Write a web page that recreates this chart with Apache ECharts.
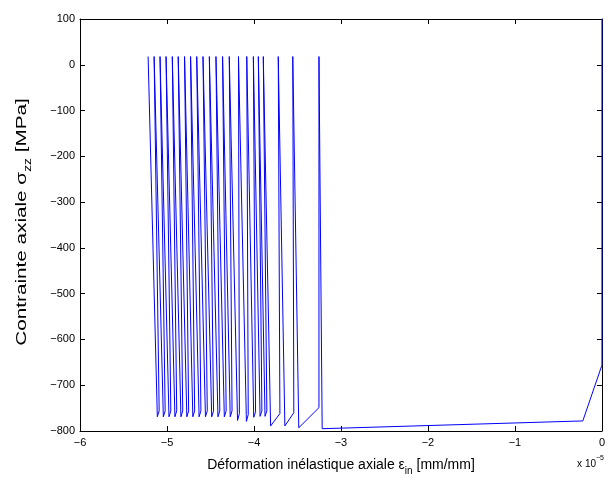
<!DOCTYPE html>
<html><head><meta charset="utf-8">
<script src="https://cdn.jsdelivr.net/npm/echarts@6/dist/echarts.min.js"></script>
<style>html,body{margin:0;padding:0;background:#fff}#c{width:608px;height:481px}</style>
</head><body><div id="c"></div>
<script>
// strain in units of 1e-5 mm/mm, stress in MPa
const xTicks = [-6, -5, -4, -3, -2, -1, 0];
const yTicks = [-800, -700, -600, -500, -400, -300, -200, -100, 0, 100];
const peakStrain = [-5.217, -5.148, -5.080, -5.011, -4.939, -4.871, -4.798, -4.729, -4.658, -4.586, -4.513,
  -4.437, -4.361, -4.284, -4.178, -4.083, -4.007, -3.950, -3.893, -3.721, -3.554, -3.253];
const peakStress = [18, 18, 18, 18, 18, 18, 18, 18, 18, 18, 18, 18, 18, 18, 18, 18, 18, 18, 18, 18, 18, 18];
const bottomStrain = [-5.111, -5.042, -4.977, -4.909, -4.840, -4.772, -4.703, -4.631, -4.558, -4.486, -4.414,
  -4.341, -4.273, -4.189, -4.087, -4.003, -3.930, -3.873, -3.809, -3.645, -3.485, -3.216];
const bottomStress = [-769, -769, -769, -769, -769, -769, -769, -769, -769, -769, -769,
  -769, -769, -777, -779, -770, -768, -768, -789, -789, -793, -795];
const reloadStrain = [-5.090, -5.021, -4.956, -4.888, -4.819, -4.751, -4.682, -4.610, -4.537, -4.465, -4.393,
  -4.320, -4.252, -4.168, -4.066, -3.982, -3.909, -3.852, -3.702, -3.542, -3.253];
const reloadStress = [-756, -756, -756, -756, -756, -756, -756, -756, -756, -756, -756,
  -756, -756, -762, -764, -758, -756, -756, -762, -760, -749];
const tailStrain = [-0.22, 0, 0];
const tailStress = [-778, -656, 100];

const pts = [];
for (let i = 0; i < peakStrain.length; i++) {
  pts.push([peakStrain[i], peakStress[i]]);
  pts.push([bottomStrain[i], bottomStress[i]]);
  if (i < reloadStrain.length) pts.push([reloadStrain[i], reloadStress[i]]);
}
for (let i = 0; i < tailStrain.length; i++) pts.push([tailStrain[i], tailStress[i]]);

const font = 'Liberation Sans, Arial, Helvetica, sans-serif';
const minus = v => String(v).replace('-', '\u2212');
const axisCommon = {
  type: 'value',
  axisLine: { show: true, onZero: false, lineStyle: { color: '#000', width: 1 } },
  axisTick: { show: true, inside: true, length: 5, lineStyle: { color: '#000' } },
  splitLine: { show: false },
};
const chart = echarts.init(document.getElementById('c'), null, { renderer: 'canvas' });
chart.setOption({
  animation: false,
  backgroundColor: '#fff',
  grid: { left: 80, right: 2, top: 19, bottom: 48, containLabel: false },
  xAxis: [
    Object.assign({}, axisCommon, {
      position: 'bottom', min: xTicks[0], max: xTicks[xTicks.length - 1], interval: 1,
      axisLabel: { color: '#000', fontSize: 11, fontFamily: font, margin: 6, formatter: minus },
      name: '{n|Déformation inélastique axiale ε}{s|in}{n| [mm/mm]}',
      nameLocation: 'middle', nameGap: 23,
      nameTextStyle: { color: '#000', fontFamily: font,
        rich: { n: { fontSize: 14, fontFamily: font, color: '#000', lineHeight: 22, verticalAlign: 'middle' },
                s: { fontSize: 10, fontFamily: font, color: '#000', lineHeight: 10, verticalAlign: 'bottom' } } }
    }),
    Object.assign({}, axisCommon, {
      position: 'top', min: xTicks[0], max: xTicks[xTicks.length - 1], interval: 1,
      axisLabel: { show: false }
    })
  ],
  yAxis: [
    Object.assign({}, axisCommon, {
      position: 'left', min: yTicks[0], max: yTicks[yTicks.length - 1], interval: 100,
      axisLabel: { color: '#000', fontSize: 11, fontFamily: font, margin: 5, formatter: minus }
    }),
    Object.assign({}, axisCommon, {
      position: 'right', min: yTicks[0], max: yTicks[yTicks.length - 1], interval: 100,
      axisLabel: { show: false }
    })
  ],
  graphic: [{
    type: 'text', right: 4, top: 455,
    style: { text: '{n|x 10}{e|\u22125}', fill: '#000', font: '10px ' + font,
      rich: { n: { fontSize: 10, fontFamily: font, lineHeight: 14, verticalAlign: 'bottom' },
              e: { fontSize: 7, fontFamily: font, lineHeight: 7, verticalAlign: 'top' } } }
  }, {
    type: 'text', x: 22, y: 222, rotation: Math.PI / 2, scaleX: 1.38, scaleY: 1,
    style: { text: '{n|Contrainte axiale σ}{s|zz}{n| [MPa]}', fill: '#000', align: 'center', verticalAlign: 'middle',
      font: '15px ' + font,
      rich: { n: { fontSize: 15, fontFamily: font, lineHeight: 22, verticalAlign: 'middle' },
              s: { fontSize: 10, fontFamily: font, lineHeight: 10, verticalAlign: 'bottom' } } }
  }],
  series: [{
    type: 'line', data: pts, showSymbol: false, symbol: 'none',
    lineStyle: { color: '#0000ff', width: 1 }, clip: true
  }]
});
</script>
</body></html>
